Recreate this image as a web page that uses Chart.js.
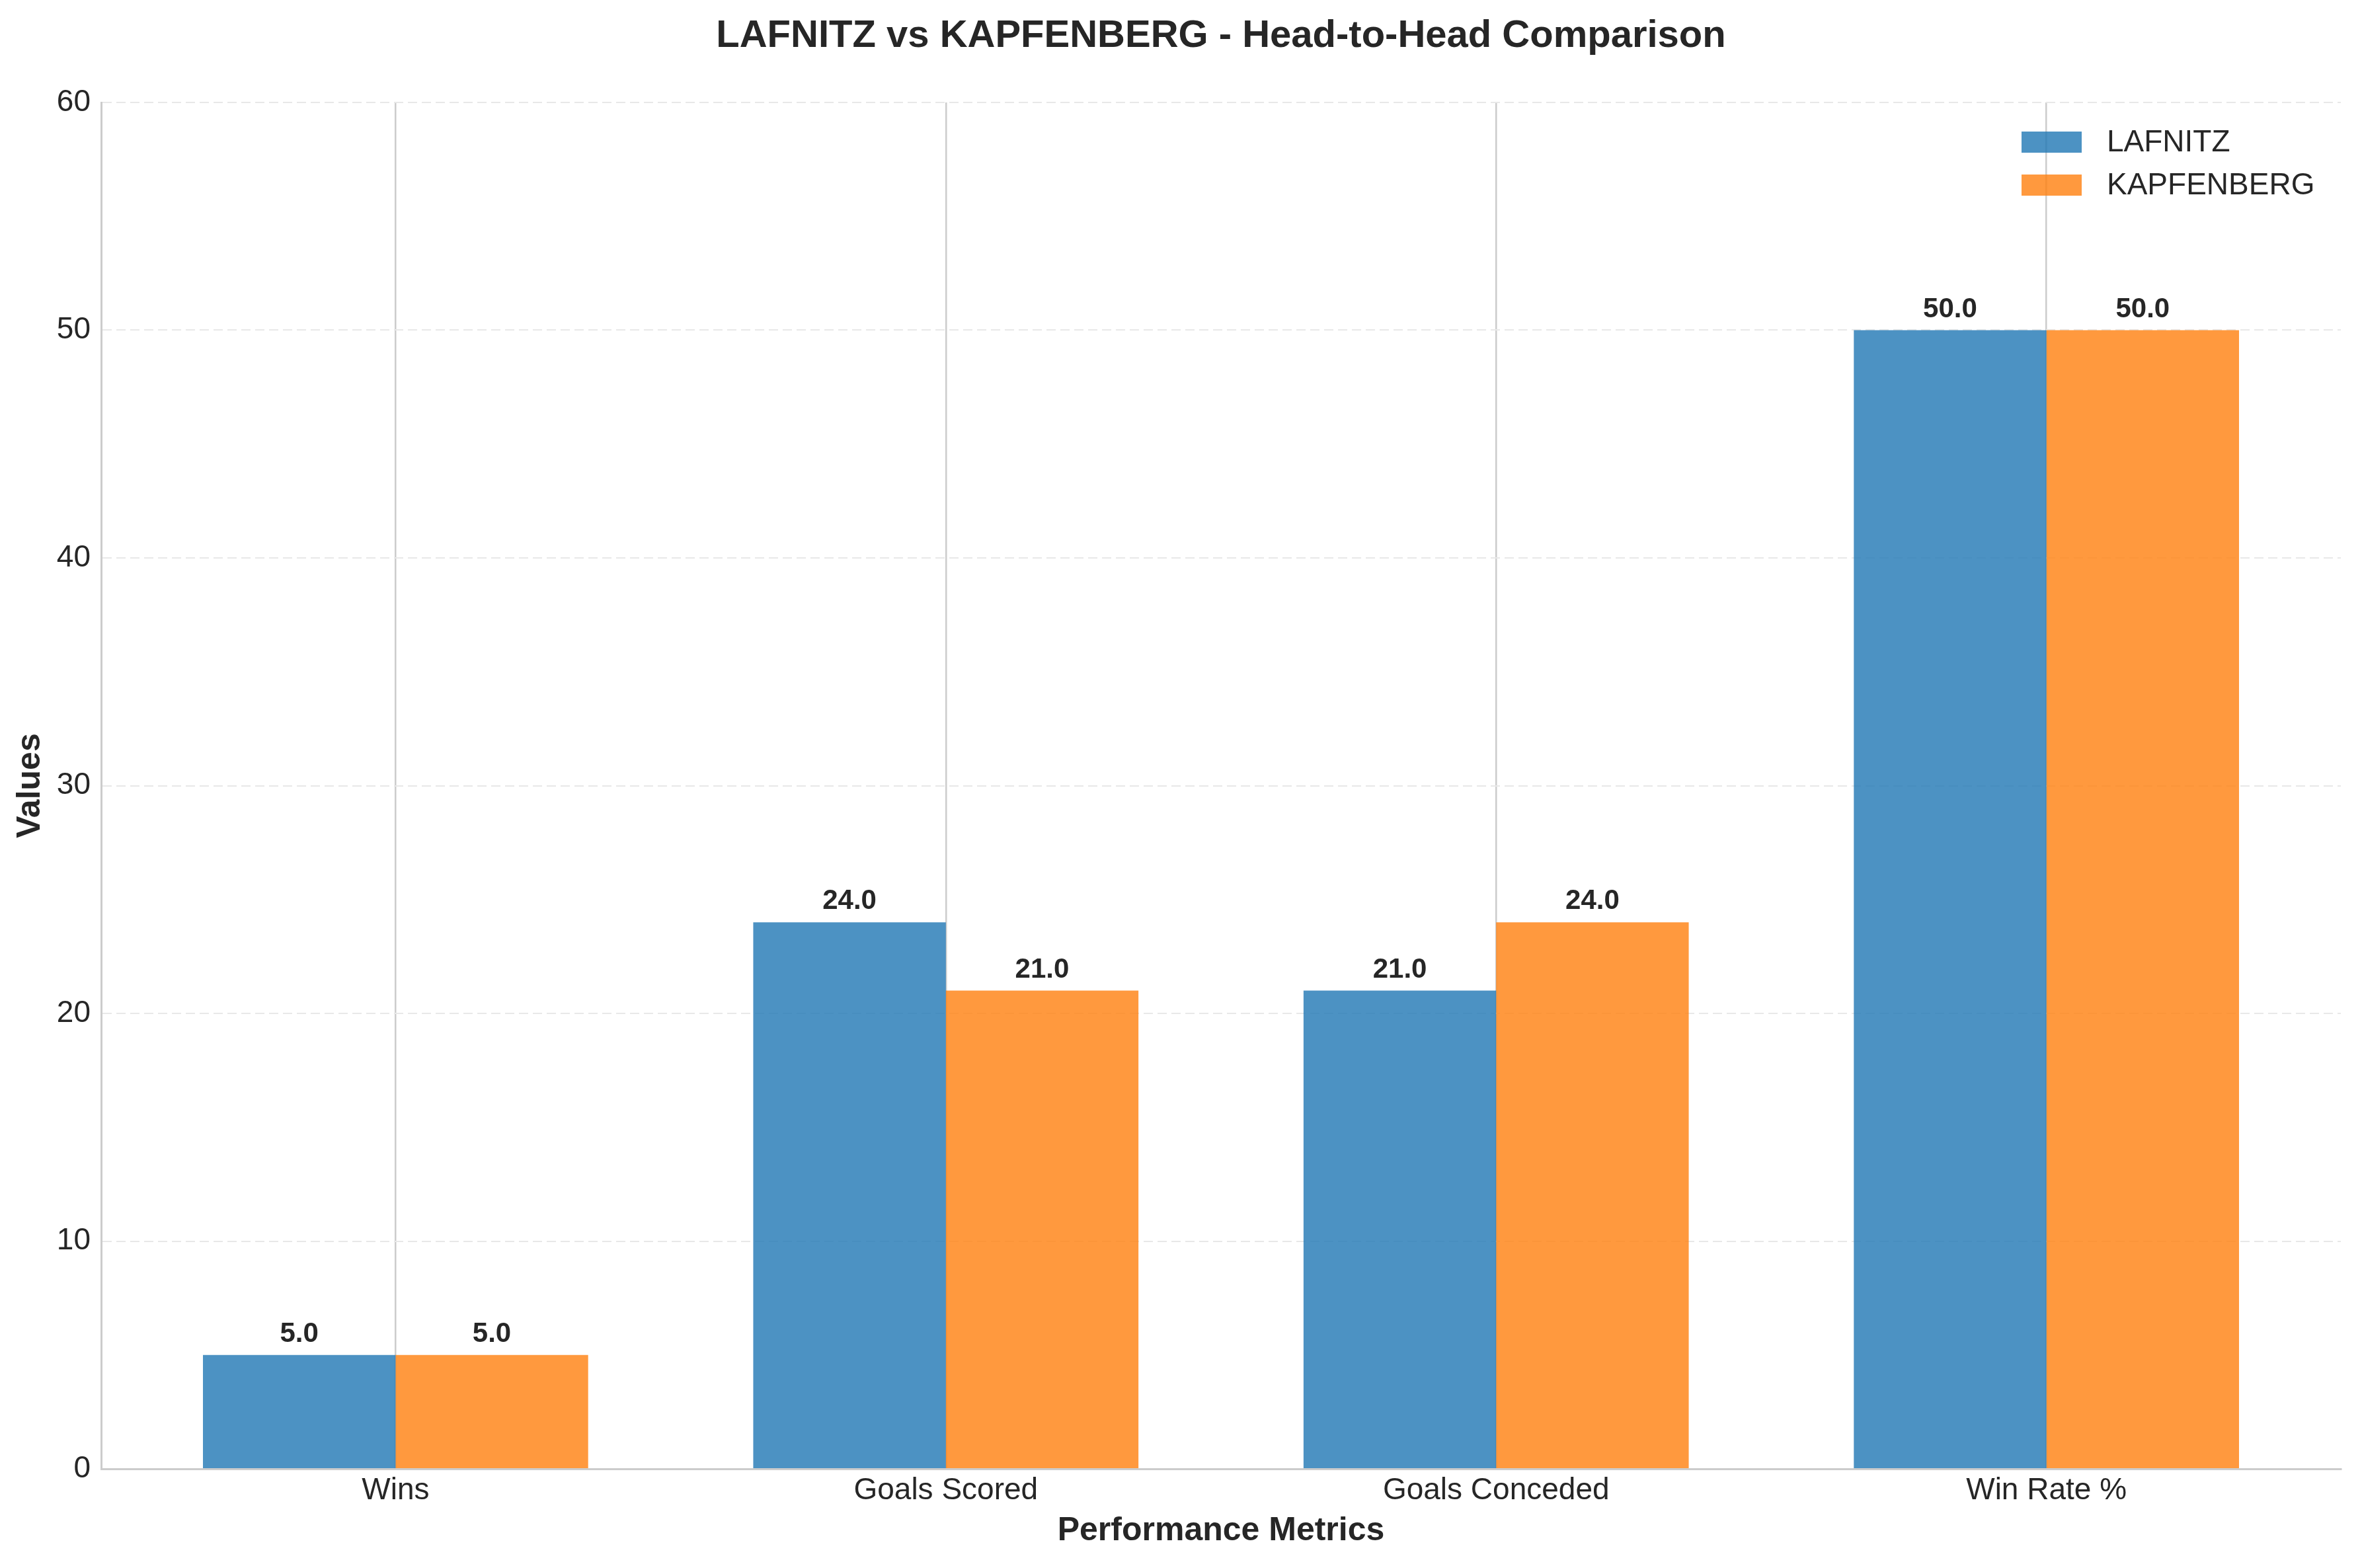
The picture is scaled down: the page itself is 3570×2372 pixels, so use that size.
<!DOCTYPE html>
<html>
<head>
<meta charset="utf-8">
<script src="https://cdn.jsdelivr.net/npm/chart.js@4.4.0/dist/chart.umd.min.js"></script>
<style>
  html, body { margin: 0; padding: 0; background: #fff; }
  canvas { display: block; }
</style>
</head>
<body>
<canvas id="h2hChart" width="3570" height="2372"></canvas>
<script>
// Data
const categories = ["Wins", "Goals Scored", "Goals Conceded", "Win Rate %"];
const lafnitzValues = [5, 24, 21, 50];
const kapfenbergValues = [5, 21, 24, 50];
const teamNames = ["LAFNITZ", "KAPFENBERG"];
const yTicks = [0, 10, 20, 30, 40, 50, 60];
const chartTitle = "LAFNITZ vs KAPFENBERG - Head-to-Head Comparison";

const FONT = "'Liberation Sans', Arial, sans-serif";
const TEXT = "#262626";
const blue = "rgba(31, 119, 180, 0.8)";
const orange = "rgba(255, 127, 14, 0.8)";

Chart.defaults.font.family = FONT;
Chart.defaults.color = TEXT;

// title, value labels and legend drawn on top
const overlayPlugin = {
    id: "overlay",
    afterDatasetsDraw(chart) {
        const ctx = chart.ctx;
        const area = chart.chartArea;
        ctx.save();

        // value labels above bars
        ctx.font = `bold 42px ${FONT}`;
        ctx.fillStyle = TEXT;
        ctx.textAlign = "center";
        ctx.textBaseline = "alphabetic";
        chart.data.datasets.forEach((ds, di) => {
            chart.getDatasetMeta(di).data.forEach((bar, i) => {
                ctx.fillText(ds.data[i].y.toFixed(1), bar.x, bar.y - 20);
            });
        });

        // title
        ctx.font = `bold 58px ${FONT}`;
        ctx.textBaseline = "middle";
        ctx.fillText(chartTitle, (area.left + area.right) / 2, 55);

        // legend (no frame)
        ctx.font = `46px ${FONT}`;
        ctx.textAlign = "left";
        const boxX = area.right - 483;
        chart.data.datasets.forEach((ds, di) => {
            const top = 199 + di * 65;
            ctx.fillStyle = ds.backgroundColor;
            ctx.fillRect(boxX, top, 91, 32);
            ctx.fillStyle = TEXT;
            ctx.fillText(ds.label, boxX + 129, top + 17);
        });

        ctx.restore();
    }
};

const ctx = document.getElementById("h2hChart").getContext("2d");

new Chart(ctx, {
    type: "bar",
    data: {
        datasets: [
            {
                label: teamNames[0],
                data: categories.map((c, i) => ({ x: i, y: lafnitzValues[i] })),
                backgroundColor: blue,
                borderWidth: 0,
                categoryPercentage: 0.7,
                barPercentage: 1.0
            },
            {
                label: teamNames[1],
                data: categories.map((c, i) => ({ x: i, y: kapfenbergValues[i] })),
                backgroundColor: orange,
                borderWidth: 0,
                categoryPercentage: 0.7,
                barPercentage: 1.0
            }
        ]
    },
    options: {
        responsive: false,
        devicePixelRatio: 1,
        animation: false,
        layout: { padding: { top: 155, right: 29, left: 0, bottom: 0 } },
        plugins: {
            legend: { display: false },
            tooltip: { enabled: false }
        },
        scales: {
            x: {
                type: "linear",
                offset: false,
                min: -0.535,
                max: categories.length - 1 + 0.535,
                afterFit: (s) => { s.height = 150; },
                ticks: {
                    stepSize: 1,
                    includeBounds: false,
                    autoSkip: false,
                    maxRotation: 0,
                    padding: 6,
                    color: TEXT,
                    font: { size: 46 },
                    callback: (v) => categories[v] || ""
                },
                grid: { offset: false, color: "#cccccc", lineWidth: 2.5, drawTicks: false },
                border: { color: "#cccccc", width: 3 },
                title: {
                    display: true,
                    text: "Performance Metrics",
                    color: TEXT,
                    font: { size: 50, weight: "bold" },
                    padding: { top: 0, bottom: 26 }
                }
            },
            y: {
                min: yTicks[0],
                max: yTicks[yTicks.length - 1],
                afterFit: (s) => { s.width = 153; },
                ticks: {
                    stepSize: yTicks[1] - yTicks[0],
                    padding: 16,
                    color: TEXT,
                    font: { size: 46 }
                },
                grid: { color: "#e8e8e8", lineWidth: 2, drawTicks: false },
                border: { color: "#cccccc", width: 3, dash: [14, 7] },
                title: {
                    display: true,
                    text: "Values",
                    color: TEXT,
                    font: { size: 50, weight: "bold" },
                    padding: { top: 16, bottom: 0 }
                }
            }
        }
    },
    plugins: [overlayPlugin]
});
</script>
</body>
</html>
